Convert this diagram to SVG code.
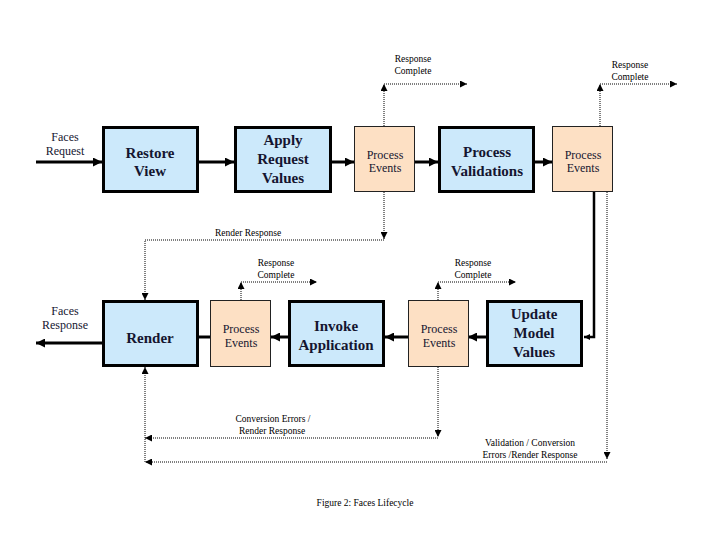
<svg xmlns="http://www.w3.org/2000/svg" width="720" height="540" viewBox="0 0 720 540">
<style>
.phase{fill:#cce9fb;stroke:#000;stroke-width:3}
.pe{fill:#fde0c4;stroke:#222;stroke-width:1}
text{font-family:'Liberation Serif','DejaVu Serif',serif}
.big{font-size:15px;font-weight:bold;fill:#151530;text-anchor:middle}
.mid{font-size:12px;fill:#151530;text-anchor:middle}
.sm{font-size:9.5px;fill:#000;text-anchor:middle}
.solid{fill:none;stroke:#000;stroke-width:3}
.dot{fill:none;stroke:#000;stroke-width:1;stroke-dasharray:1 1}
</style>
<defs>
<marker id="ah" viewBox="0 0 10 10" refX="10" refY="5" orient="auto" markerUnits="userSpaceOnUse" markerWidth="10" markerHeight="9"><path d="M0,0 L10,5 L0,10 Z" fill="#000"/></marker>
<marker id="ahs" viewBox="0 0 10 10" refX="10" refY="5" orient="auto" markerUnits="userSpaceOnUse" markerWidth="7" markerHeight="6"><path d="M0,0 L10,5 L0,10 Z" fill="#000"/></marker>
<marker id="ad" viewBox="0 0 10 10" refX="10" refY="5" orient="auto" markerUnits="userSpaceOnUse" markerWidth="8" markerHeight="7"><path d="M0,0 L10,5 L0,10 Z" fill="#000"/></marker>
</defs>
<rect width="720" height="540" fill="#fff"/>
<g id="connectors">
<path class="solid" d="M36,162 H102" marker-end="url(#ah)"/>
<path class="solid" d="M199,162 H234" marker-end="url(#ah)"/>
<path class="solid" d="M332,162 H354" marker-end="url(#ah)"/>
<path class="solid" d="M415,162 H438" marker-end="url(#ah)"/>
<path class="solid" d="M535,162 H552" marker-end="url(#ah)"/>
<path class="solid" style="stroke-width:2.5" d="M594,192 V337 H584" marker-end="url(#ahs)"/>
<path class="solid" d="M486,337 H468" marker-end="url(#ah)"/>
<path class="solid" d="M408,337 H385" marker-end="url(#ah)"/>
<path class="solid" d="M288,337 H271" marker-end="url(#ah)"/>
<path class="solid" d="M210,337 H199"/>
<path class="solid" d="M102,343 H36" marker-end="url(#ah)"/>
<path class="dot" d="M384,126 V84" marker-end="url(#ad)"/>
<path class="dot" d="M384,84 H467" marker-end="url(#ad)"/>
<path class="dot" d="M600,126 V84" marker-end="url(#ad)"/>
<path class="dot" d="M600,84 H677" marker-end="url(#ad)"/>
<path class="dot" d="M384,192 V239" marker-end="url(#ad)"/>
<path class="dot" d="M384,240 H145 V300" marker-end="url(#ad)"/>
<path class="dot" d="M241,300 V282" marker-end="url(#ad)"/>
<path class="dot" d="M241,282 H317" marker-end="url(#ad)"/>
<path class="dot" d="M438,300 V282" marker-end="url(#ad)"/>
<path class="dot" d="M438,282 H516" marker-end="url(#ad)"/>
<path class="dot" d="M438,367 V437" marker-end="url(#ad)"/>
<path class="dot" d="M438,438 H145" marker-end="url(#ad)"/>
<path class="dot" d="M607,192 V459" marker-end="url(#ad)"/>
<path class="dot" d="M607,462 H145" marker-end="url(#ad)"/>
<path class="dot" d="M145,462 V367" marker-end="url(#ad)"/>
</g>
<g id="labels">
<text class="mid" x="65" y="141">Faces</text>
<text class="mid" x="65" y="155">Request</text>
<text class="mid" x="65" y="315">Faces</text>
<text class="mid" x="65" y="329">Response</text>
<text class="sm" x="413" y="62">Response</text>
<text class="sm" x="413" y="74">Complete</text>
<text class="sm" x="630" y="68">Response</text>
<text class="sm" x="630" y="80">Complete</text>
<text class="sm" x="248" y="236">Render Response</text>
<text class="sm" x="276" y="266">Response</text>
<text class="sm" x="276" y="278">Complete</text>
<text class="sm" x="473" y="266">Response</text>
<text class="sm" x="473" y="278">Complete</text>
<text class="sm" x="273" y="422">Conversion Errors /</text>
<text class="sm" x="272" y="434">Render Response</text>
<text class="sm" x="530" y="446">Validation / Conversion</text>
<text class="sm" x="530" y="458">Errors /Render Response</text>
<text class="sm" x="365" y="506">Figure 2: Faces Lifecycle</text>
</g>
<g id="restore-view"><rect class="phase" x="103.5" y="127.5" width="94" height="64"/><text class="big" x="150" y="158">Restore</text><text class="big" x="150" y="176">View</text></g>
<g id="apply-request-values"><rect class="phase" x="235.5" y="127.5" width="95" height="64"/><text class="big" x="283" y="145">Apply</text><text class="big" x="283" y="164">Request</text><text class="big" x="283" y="183">Values</text></g>
<g id="process-events-1"><rect class="pe" x="354.5" y="126.5" width="60" height="65"/><text class="mid" x="385" y="159">Process</text><text class="mid" x="385" y="172">Events</text></g>
<g id="process-validations"><rect class="phase" x="439.5" y="127.5" width="94" height="64"/><text class="big" x="487" y="157">Process</text><text class="big" x="487" y="176">Validations</text></g>
<g id="process-events-2"><rect class="pe" x="552.5" y="126.5" width="60" height="65"/><text class="mid" x="583" y="159">Process</text><text class="mid" x="583" y="172">Events</text></g>
<g id="render"><rect class="phase" x="103.5" y="301.5" width="94" height="64"/><text class="big" x="150" y="343">Render</text></g>
<g id="process-events-3"><rect class="pe" x="210.5" y="300.5" width="60" height="66"/><text class="mid" x="241" y="333">Process</text><text class="mid" x="241" y="347">Events</text></g>
<g id="invoke-application"><rect class="phase" x="289.5" y="301.5" width="94" height="64"/><text class="big" x="336" y="331">Invoke</text><text class="big" x="336" y="350">Application</text></g>
<g id="process-events-4"><rect class="pe" x="408.5" y="300.5" width="60" height="66"/><text class="mid" x="439" y="333">Process</text><text class="mid" x="439" y="347">Events</text></g>
<g id="update-model-values"><rect class="phase" x="487.5" y="301.5" width="94" height="64"/><text class="big" x="534" y="319">Update</text><text class="big" x="534" y="338">Model</text><text class="big" x="534" y="357">Values</text></g>
</svg>
